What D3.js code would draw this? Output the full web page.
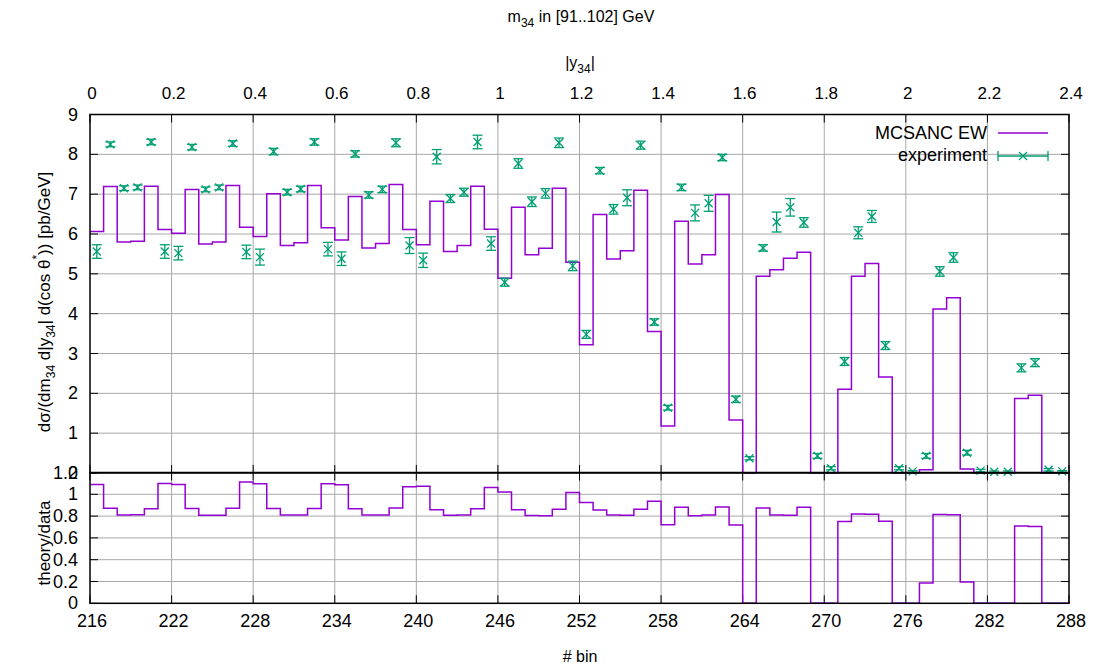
<!DOCTYPE html>
<html>
<head>
<meta charset="utf-8">
<script src="https://cdn.jsdelivr.net/npm/d3@7"></script>
<style>
  body { margin: 0; background: #fff; }
  svg text { font-family: "Liberation Sans", Arial, sans-serif; fill: #000; }
  .narrow { font-family: "Liberation Sans Narrow", "Liberation Sans", sans-serif; font-stretch: condensed; }
</style>
</head>
<body>
<script>
// bin numbers on the lower axis, |y34| on the upper one
var binFirst = 216, binLast = 288;
var binTicks = [216, 222, 228, 234, 240, 246, 252, 258, 264, 270, 276, 282, 288];
var yAbsTicks = [0, 0.2, 0.4, 0.6, 0.8, 1, 1.2, 1.4, 1.6, 1.8, 2, 2.2, 2.4];
var mainTicks = [0, 1, 2, 3, 4, 5, 6, 7, 8, 9];
var ratioTicks = [0, 0.2, 0.4, 0.6, 0.8, 1, 1.2];

// MCSANC EW prediction, one value per bin 216..287
var theory = [
  6.06, 7.19, 5.80, 5.82, 7.20, 6.11, 6.02, 7.12, 5.75, 5.80, 7.22, 6.17,
  5.94, 7.01, 5.71, 5.78, 7.22, 6.16, 5.85, 6.94, 5.65, 5.76, 7.24, 6.11,
  5.73, 6.82, 5.56, 5.71, 7.20, 6.12, 4.89, 6.67, 5.48, 5.64, 7.15, 5.29,
  3.22, 6.49, 5.37, 5.58, 7.10, 3.55, 1.18, 6.32, 5.25, 5.48, 6.99, 1.33,
  0.00, 4.94, 5.10, 5.39, 5.54, 0.00, 0.00, 2.10, 4.94, 5.26, 2.41, 0.00,
  0.00, 0.08, 4.12, 4.40, 0.10, 0.00, 0.00, 0.00, 1.87, 1.95, 0.00, 0.00
];

// measured values
var experiment = [
  5.56, 8.25, 7.15, 7.17, 8.31, 5.56, 5.52, 8.18, 7.12, 7.17, 8.27, 5.55,
  5.42, 8.07, 7.05, 7.13, 8.31, 5.62, 5.38, 8.01, 6.98, 7.12, 8.29, 5.71,
  5.34, 7.94, 6.89, 7.05, 8.31, 5.76, 4.79, 7.77, 6.81, 7.02, 8.29, 5.20,
  3.48, 7.59, 6.62, 6.91, 8.23, 3.79, 1.64, 7.17, 6.53, 6.77, 7.92, 1.85,
  0.37, 5.65, 6.30, 6.67, 6.29, 0.43, 0.12, 2.80, 6.03, 6.44, 3.20, 0.12,
  0.04, 0.43, 5.06, 5.41, 0.51, 0.06, 0.03, 0.03, 2.64, 2.77, 0.08, 0.04
];

// experimental uncertainties
var expError = [
  0.17, 0.06, 0.06, 0.06, 0.07, 0.17, 0.17, 0.07, 0.06, 0.06, 0.07, 0.17,
  0.20, 0.08, 0.07, 0.07, 0.08, 0.17, 0.17, 0.08, 0.08, 0.08, 0.10, 0.20,
  0.18, 0.18, 0.10, 0.10, 0.17, 0.17, 0.10, 0.12, 0.12, 0.12, 0.12, 0.12,
  0.10, 0.08, 0.12, 0.20, 0.10, 0.08, 0.06, 0.08, 0.20, 0.20, 0.08, 0.08,
  0.04, 0.08, 0.25, 0.22, 0.12, 0.06, 0.04, 0.10, 0.15, 0.15, 0.10, 0.04,
  0.02, 0.06, 0.12, 0.12, 0.06, 0.03, 0.02, 0.02, 0.10, 0.10, 0.03, 0.02
];

var W = 1098, H = 671;
var left = 90, right = 1069;
var mainTop = 114.5, mainBottom = 473;
var ratioTop = 472.5, ratioBottom = 603.3;
var purple = "#9400d3", green = "#009e73", gridColor = "#a8a8a8";

var svg = d3.select("body").append("svg")
    .attr("width", W)
    .attr("height", H);

var x = d3.scaleLinear().domain([binFirst, binLast]).range([left, right]);
var xTop = d3.scaleLinear().domain([0, 2.4]).range([left, right]);
var y = d3.scaleLinear().domain([0, 9]).range([mainBottom, mainTop]);
var yR = d3.scaleLinear().domain([0, 1.2]).range([ratioBottom, ratioTop]);

function gridAndTicks(g, yScale, yTicks, top, bottom, fmt) {
    // grid
    g.append("g").selectAll("line.gx")
        .data(binTicks.slice(1, -1))
        .enter().append("line")
        .attr("x1", function (d) { return x(d); })
        .attr("x2", function (d) { return x(d); })
        .attr("y1", top).attr("y2", bottom)
        .attr("stroke", gridColor).attr("stroke-width", 1);
    g.append("g").selectAll("line.gy")
        .data(yTicks.filter(function (d) { return yScale(d) > top + 1 && yScale(d) < bottom - 1; }))
        .enter().append("line")
        .attr("x1", left).attr("x2", right)
        .attr("y1", function (d) { return yScale(d); })
        .attr("y2", function (d) { return yScale(d); })
        .attr("stroke", gridColor).attr("stroke-width", 1);

    // inward ticks on all sides
    var tl = 8;
    var ty = g.append("g");
    yTicks.forEach(function (d) {
        ty.append("line").attr("x1", left).attr("x2", left + tl)
            .attr("y1", yScale(d)).attr("y2", yScale(d)).attr("stroke", "#000");
        ty.append("line").attr("x1", right).attr("x2", right - tl)
            .attr("y1", yScale(d)).attr("y2", yScale(d)).attr("stroke", "#000");
    });
    binTicks.forEach(function (d) {
        ty.append("line").attr("x1", x(d)).attr("x2", x(d))
            .attr("y1", bottom).attr("y2", bottom - tl).attr("stroke", "#000");
        ty.append("line").attr("x1", x(d)).attr("x2", x(d))
            .attr("y1", top).attr("y2", top + tl).attr("stroke", "#000");
    });

    // y labels
    g.append("g").selectAll("text")
        .data(yTicks)
        .enter().append("text")
        .attr("x", left - 12)
        .attr("y", function (d) { return yScale(d) + 6; })
        .attr("text-anchor", "end")
        .style("font-size", "18px")
        .text(fmt);
}

var mainG = svg.append("g");
var ratioG = svg.append("g");
gridAndTicks(mainG, y, mainTicks, mainTop, mainBottom, function (d) { return d; });
gridAndTicks(ratioG, yR, ratioTicks, ratioTop, ratioBottom, function (d) { return d; });

// step lines
var stepMain = d3.line()
    .x(function (d) { return x(d[0]); })
    .y(function (d) { return y(d[1]); })
    .curve(d3.curveStepAfter);
var stepRatio = d3.line()
    .x(function (d) { return x(d[0]); })
    .y(function (d) { return yR(d[1]); })
    .curve(d3.curveStepAfter);

var thPts = theory.map(function (v, i) { return [binFirst + i, v]; });
thPts.push([binLast, theory[theory.length - 1]]);
var ratio = theory.map(function (v, i) { return experiment[i] > 0 ? v / experiment[i] : 0; });
var rPts = ratio.map(function (v, i) { return [binFirst + i, v]; });
rPts.push([binLast, ratio[ratio.length - 1]]);

mainG.append("path")
    .attr("d", stepMain(thPts))
    .attr("fill", "none")
    .attr("stroke", purple)
    .attr("stroke-width", 1.5);
ratioG.append("path")
    .attr("d", stepRatio(rPts))
    .attr("fill", "none")
    .attr("stroke", purple)
    .attr("stroke-width", 1.5);

// experiment points
var cap = 5, mk = 4;
var pts = mainG.append("g").selectAll("g.pt")
    .data(experiment)
    .enter().append("g")
    .attr("stroke", green)
    .attr("stroke-width", 1.3);
pts.each(function (d, i) {
    var g = d3.select(this);
    var cx = x(binFirst + i + 0.5);
    var lo = y(d - expError[i]), hi = y(d + expError[i]), cy = y(d);
    g.append("line").attr("x1", cx).attr("x2", cx).attr("y1", lo).attr("y2", hi);
    g.append("line").attr("x1", cx - cap).attr("x2", cx + cap).attr("y1", lo).attr("y2", lo);
    g.append("line").attr("x1", cx - cap).attr("x2", cx + cap).attr("y1", hi).attr("y2", hi);
    g.append("line").attr("x1", cx - mk).attr("x2", cx + mk).attr("y1", cy - mk).attr("y2", cy + mk);
    g.append("line").attr("x1", cx - mk).attr("x2", cx + mk).attr("y1", cy + mk).attr("y2", cy - mk);
});

// frames
svg.append("rect")
    .attr("x", left).attr("y", mainTop)
    .attr("width", right - left).attr("height", mainBottom - mainTop)
    .attr("fill", "none").attr("stroke", "#000").attr("stroke-width", 1.5);
svg.append("rect")
    .attr("x", left).attr("y", ratioTop)
    .attr("width", right - left).attr("height", ratioBottom - ratioTop)
    .attr("fill", "none").attr("stroke", "#000").attr("stroke-width", 1.5);

// bottom tick labels
svg.append("g").selectAll("text")
    .data(binTicks)
    .enter().append("text")
    .attr("x", function (d) { return x(d) + 2; })
    .attr("y", ratioBottom + 24)
    .attr("text-anchor", "middle")
    .style("font-size", "18px")
    .text(function (d) { return d; });

// top tick labels
svg.append("g").selectAll("text")
    .data(yAbsTicks)
    .enter().append("text")
    .attr("class", "narrow")
    .attr("x", function (d) { return xTop(d) + 2; })
    .attr("y", 99)
    .attr("text-anchor", "middle")
    .style("font-size", "17px")
    .text(function (d) { return d; });

// axis titles
svg.append("text")
    .attr("x", 580).attr("y", 662)
    .attr("text-anchor", "middle")
    .style("font-size", "16px")
    .text("# bin");

var t1 = svg.append("text")
    .attr("class", "narrow")
    .attr("x", 581).attr("y", 22)
    .attr("text-anchor", "middle")
    .style("font-size", "16px");
t1.append("tspan").text("m");
t1.append("tspan").attr("dy", 5).style("font-size", "12px").text("34");
t1.append("tspan").attr("dy", -5).text(" in [91..102] GeV");

var t2 = svg.append("text")
    .attr("class", "narrow")
    .attr("x", 580).attr("y", 68)
    .attr("text-anchor", "middle")
    .style("font-size", "16px");
t2.append("tspan").text("|y");
t2.append("tspan").attr("dy", 5).style("font-size", "12px").text("34");
t2.append("tspan").attr("dy", -5).text("|");

var yl = svg.append("text")
    .attr("transform", "translate(50,302) rotate(-90)")
    .attr("text-anchor", "middle")
    .style("font-size", "17px");
yl.append("tspan").text("dσ/(dm");
yl.append("tspan").attr("dy", 5).style("font-size", "12px").text("34");
yl.append("tspan").attr("dy", -5).text(" d|y");
yl.append("tspan").attr("dy", 5).style("font-size", "12px").text("34");
yl.append("tspan").attr("dy", -5).text("| d(cos θ");
yl.append("tspan").attr("dy", -9).style("font-size", "12px").text("*");
yl.append("tspan").attr("dy", 9).text(")) [pb/GeV]");

svg.append("text")
    .attr("transform", "translate(50,543) rotate(-90)")
    .attr("text-anchor", "middle")
    .style("font-size", "17px")
    .text("theory/data");

// legend
var leg = svg.append("g");
leg.append("text")
    .attr("x", 987).attr("y", 139)
    .attr("text-anchor", "end")
    .style("font-size", "18px")
    .text("MCSANC EW");
leg.append("line")
    .attr("x1", 998).attr("x2", 1048)
    .attr("y1", 133).attr("y2", 133)
    .attr("stroke", purple).attr("stroke-width", 1.5);
leg.append("text")
    .attr("x", 987).attr("y", 161)
    .attr("text-anchor", "end")
    .style("font-size", "18px")
    .text("experiment");
var le = leg.append("g").attr("stroke", green).attr("stroke-width", 1.3);
le.append("line").attr("x1", 998).attr("x2", 1048).attr("y1", 156).attr("y2", 156);
le.append("line").attr("x1", 998).attr("x2", 998).attr("y1", 151).attr("y2", 161);
le.append("line").attr("x1", 1048).attr("x2", 1048).attr("y1", 151).attr("y2", 161);
le.append("line").attr("x1", 1023 - mk).attr("x2", 1023 + mk).attr("y1", 156 - mk).attr("y2", 156 + mk);
le.append("line").attr("x1", 1023 - mk).attr("x2", 1023 + mk).attr("y1", 156 + mk).attr("y2", 156 - mk);
</script>
</body>
</html>
